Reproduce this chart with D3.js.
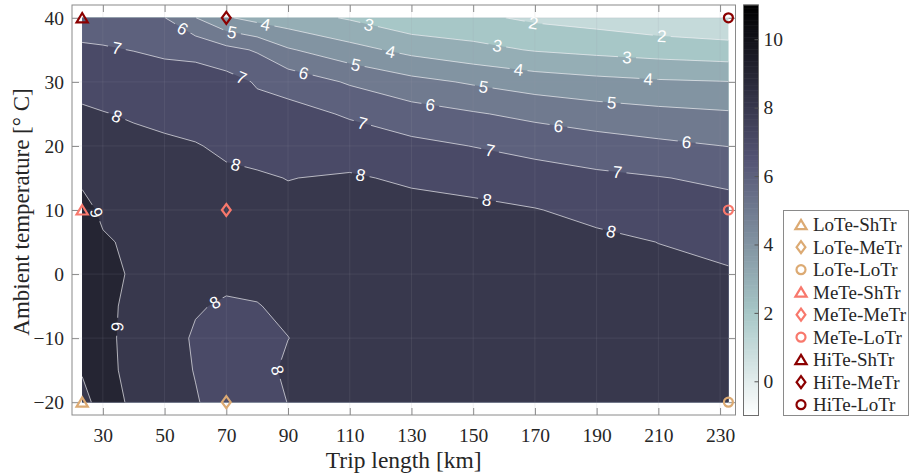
<!DOCTYPE html>
<html>
<head>
<meta charset="utf-8">
<script src="https://cdn.jsdelivr.net/npm/d3@7"></script>
<style>
  body { margin: 0; background: #fff; }
</style>
</head>
<body>
<svg id="chart" width="910" height="476"></svg>
<script>
// grid of the contour plot: trip length (columns) x ambient temperature (rows)
const tripKm = [23.3, 30, 40, 50, 60, 70, 80, 90, 110, 130, 150, 170, 190, 210, 232.7];
const tempC = [-20, -15, -10, -5, 0, 5, 10, 15, 20, 25, 30, 35, 40];

// values per temperature row
const zM20 = [8.8, 9.25, 8.9, 8.3, 8.05, 7.7, 7.75, 8.01, 8.45, 8.5, 8.6, 8.6, 8.6, 8.55, 8.5];
const zM15 = [9.05, 9.2, 8.8, 8.3, 7.97, 7.65, 7.7, 8.15, 8.45, 8.5, 8.6, 8.6, 8.55, 8.5, 8.45];
const zM10 = [9.3, 9.2, 8.75, 8.25, 7.93, 7.7, 7.75, 7.99, 8.45, 8.5, 8.6, 8.6, 8.5, 8.45, 8.4];
const zM5 = [9.35, 9.2, 8.8, 8.4, 8.05, 7.93, 7.97, 8.15, 8.45, 8.5, 8.55, 8.55, 8.45, 8.35, 8.3];
const z0 = [9.4, 9.2, 8.92, 8.5, 8.3, 8.15, 8.2, 8.3, 8.45, 8.5, 8.5, 8.45, 8.35, 8.2, 8.1];
const z5 = [9.4, 9.1, 8.85, 8.55, 8.35, 8.3, 8.35, 8.3, 8.4, 8.45, 8.4, 8.3, 8.2, 7.99, 7.71];
const z10 = [9.3, 8.84, 8.7, 8.5, 8.35, 8.3, 8.3, 8.2, 8.3, 8.3, 8.23, 8.04, 7.75, 7.52, 7.31];
const z15 = [8.83, 8.57, 8.5, 8.35, 8.2, 8.15, 8.1, 7.98, 8.1, 7.86, 7.64, 7.42, 7.2, 7.04, 6.82];
const z20 = [8.49, 8.3, 8.25, 8.15, 8.05, 7.85, 7.7, 7.6, 7.52, 7.24, 6.98, 6.7, 6.44, 6.21, 5.98];
const z25 = [8.14, 8.04, 7.9, 7.77, 7.65, 7.49, 7.33, 7.35, 6.89, 6.43, 6.09, 5.75, 5.47, 5.27, 5.11];
const z30 = [7.68, 7.57, 7.45, 7.35, 7.4, 7.37, 6.91, 6.6, 5.89, 5.29, 4.88, 4.51, 4.28, 4.12, 4.02];
const z35 = [7.12, 7.07, 6.98, 6.86, 6.75, 6.28, 5.9, 5.1, 4.34, 3.71, 3.29, 2.93, 2.73, 2.55, 2.39];
const z40 = [6.6, 6.6, 6.4, 6.02, 5.02, 4.1, 3.67, 3.43, 2.9, 2.24, 2.2, 1.82, 1.6, 1.3, 1.1];
const tempRows = [zM20, zM15, zM10, zM5, z0, z5, z10, z15, z20, z25, z30, z35, z40];

const levels = [1, 2, 3, 4, 5, 6, 7, 8, 9, 10];
const xTicks = [30, 50, 70, 90, 110, 130, 150, 170, 190, 210, 230];
const yTicks = [-20, -10, 0, 10, 20, 30, 40];
const cbTicks = [0, 2, 4, 6, 8, 10];

// contour labels: [level, trip length, temperature] (approximate spot)
const labelSpots = [
  [2, 169.6, 39.3], [2, 211.1, 37.1],
  [3, 116.1, 38.6], [3, 157.7, 35.3], [3, 199.8, 33.4],
  [4, 82.7, 38.9], [4, 123.1, 34.4], [4, 164.7, 31.9], [4, 206.8, 30.6],
  [5, 71.9, 37.9], [5, 111.8, 32.3], [5, 153.4, 29.3], [5, 194.9, 26.9],
  [6, 56.2, 38.6], [6, 95.0, 31.1], [6, 136.1, 26.4], [6, 177.6, 23.0], [6, 219.2, 20.7],
  [7, 34.6, 35.4], [7, 74.6, 30.3], [7, 114.4, 24.1], [7, 155.5, 19.4], [7, 196.8, 16.1],
  [8, 34.7, 24.8], [8, 73.0, 17.0], [8, 113.7, 15.8], [8, 154.5, 11.6], [8, 194.9, 6.9],
  [8, 66.5, -4.6], [8, 85.4, -15.0],
  [9, 28.7, 9.7], [9, 33.9, -8.2]
];

// test cases
const tempNames = ["LoTe", "MeTe", "HiTe"];
const tempPoints = [-20, 10, 40];
const tempColors = ["#dcaa73", "#f8786c", "#8b0000"];
const tripNames = ["ShTr", "MeTr", "LoTr"];
const tripPoints = [23.3, 70, 232.7];
const tripShapes = ["triangle", "diamond", "circle"];

const serif = "'Liberation Serif', 'Times New Roman', serif";
const axisColor = "#8a8a8a";
const textColor = "#262626";

const svg = d3.select("#chart");
const plot = { left: 72, right: 735.5, top: 5, bottom: 415 };
const x = d3.scaleLinear().domain([20, 235]).range([plot.left, plot.right]);
const y = d3.scaleLinear().domain([-22, 42]).range([plot.bottom, plot.top]);

const cb = { left: 743.5, right: 758.5, top: 5, bottom: 415.5 };
const c = d3.scaleLinear().domain([-1, 11]).range([cb.bottom, cb.top]);

// flipped bone colormap
function boneRev(v) {
  const t = 1 - (v - c.domain()[0]) / (c.domain()[1] - c.domain()[0]);
  const cl = u => Math.max(0, Math.min(1, u));
  const r = (7 * t + cl((t - 0.75) / 0.25)) / 8;
  const g = (7 * t + cl((t - 0.375) / 0.375)) / 8;
  const b = (7 * t + cl(t / 0.375)) / 8;
  return d3.rgb(r * 255, g * 255, b * 255).formatHex();
}

// contour index space -> data value (grid node i sits at i + 0.5)
function idxToData(p, arr) {
  const n = arr.length;
  if (p <= 0.5) return arr[0];
  if (p >= n - 0.5) return arr[n - 1];
  const i = Math.floor(p - 0.5), f = p - 0.5 - i;
  return arr[i] + f * (arr[i + 1] - arr[i]);
}

const nx = tripKm.length, ny = tempC.length;
const values = [];
tempRows.forEach(row => row.forEach(v => values.push(v)));
const contours = d3.contours().size([nx, ny]).thresholds(levels)(values);

// filled bands
const fills = svg.append("g");
fills.selectAll("path")
  .data(contours)
  .join("path")
  .attr("fill", d => boneRev(d.value))
  .attr("fill-rule", "evenodd")
  .attr("d", d => d.coordinates.map(poly => poly.map(ring =>
      "M" + ring.map(p => x(idxToData(p[0], tripKm)).toFixed(2) + "," + y(idxToData(p[1], tempC)).toFixed(2)).join("L") + "Z"
    ).join("")).join(""));

// iso lines (skip the pieces lying on the border of the grid)
const xMin = tripKm[0], xMax = tripKm[nx - 1], yMin = tempC[0], yMax = tempC[ny - 1];
const segsByLevel = {};
contours.forEach(ct => {
  const segs = [];
  ct.coordinates.forEach(poly => poly.forEach(ring => {
    const pts = ring.map(p => [idxToData(p[0], tripKm), idxToData(p[1], tempC)]);
    const first = pts[0], last = pts[pts.length - 1];
    if (first[0] !== last[0] || first[1] !== last[1]) pts.push(first);
    for (let k = 0; k < pts.length - 1; k++) {
      const a = pts[k], b = pts[k + 1];
      if ((a[0] === xMin && b[0] === xMin) || (a[0] === xMax && b[0] === xMax) ||
          (a[1] === yMin && b[1] === yMin) || (a[1] === yMax && b[1] === yMax)) continue;
      segs.push([[x(a[0]), y(a[1])], [x(b[0]), y(b[1])]]);
    }
  }));
  segsByLevel[ct.value] = segs;
});

// where each label goes on its line
const labels = labelSpots.map(([lv, tx, ty]) => {
  const px = x(tx), py = y(ty);
  let best = null, bestD = Infinity;
  (segsByLevel[lv] || []).forEach(([a, b]) => {
    const dx = b[0] - a[0], dy = b[1] - a[1];
    const L2 = dx * dx + dy * dy || 1;
    let u = ((px - a[0]) * dx + (py - a[1]) * dy) / L2;
    u = Math.max(0, Math.min(1, u));
    const qx = a[0] + u * dx, qy = a[1] + u * dy;
    const dd = (qx - px) ** 2 + (qy - py) ** 2;
    if (dd < bestD) { bestD = dd; best = { x: qx, y: qy, dx: dx, dy: dy }; }
  });
  if (!best) return null;
  let ang = Math.atan2(best.dy, best.dx) * 180 / Math.PI;
  if (ang > 90) ang -= 180;
  if (ang < -90) ang += 180;
  return { level: lv, x: best.x, y: best.y, angle: ang };
}).filter(d => d);

const defs = svg.append("defs");
const mask = defs.append("mask").attr("id", "gapMask")
  .attr("maskUnits", "userSpaceOnUse")
  .attr("x", 0).attr("y", 0).attr("width", 910).attr("height", 476);
mask.append("rect").attr("width", 910).attr("height", 476).attr("fill", "#fff");
mask.selectAll("rect.gap")
  .data(labels)
  .join("rect")
  .attr("class", "gap")
  .attr("x", -9).attr("y", -8).attr("width", 18).attr("height", 16)
  .attr("fill", "#000")
  .attr("transform", d => `translate(${d.x},${d.y}) rotate(${d.angle})`);

const lines = svg.append("g").attr("mask", "url(#gapMask)");
lines.selectAll("path")
  .data(contours.filter(ct => (segsByLevel[ct.value] || []).length))
  .join("path")
  .attr("fill", "none")
  .attr("stroke", "#f2f2f5")
  .attr("stroke-opacity", 0.85)
  .attr("stroke-width", 0.8)
  .attr("d", ct => segsByLevel[ct.value].map(([a, b]) =>
      "M" + a[0].toFixed(2) + "," + a[1].toFixed(2) + "L" + b[0].toFixed(2) + "," + b[1].toFixed(2)).join(""));

// faint grid
const grid = svg.append("g").attr("stroke", "#9a9aa8").attr("stroke-opacity", 0.18).attr("stroke-width", 0.8);
grid.selectAll("line.gx").data(xTicks).join("line").attr("class", "gx")
  .attr("x1", d => x(d)).attr("x2", d => x(d)).attr("y1", plot.top).attr("y2", plot.bottom);
grid.selectAll("line.gy").data(yTicks).join("line").attr("class", "gy")
  .attr("y1", d => y(d)).attr("y2", d => y(d)).attr("x1", plot.left).attr("x2", plot.right);

// contour labels
svg.append("g").selectAll("text")
  .data(labels)
  .join("text")
  .attr("transform", d => `translate(${d.x},${d.y}) rotate(${d.angle})`)
  .attr("text-anchor", "middle")
  .attr("dy", "0.36em")
  .attr("fill", "#ffffff")
  .style("font-family", "'Liberation Sans', Arial, sans-serif")
  .style("font-size", "17px")
  .text(d => d.level);

// axes
function styleAxis(g, showText) {
  g.select(".domain").remove();
  g.selectAll(".tick line").attr("stroke", axisColor);
  g.attr("font-family", serif).attr("font-size", 19.5);
  g.selectAll(".tick text").attr("fill", textColor);
  if (!showText) g.selectAll(".tick text").remove();
}
svg.append("g").attr("transform", `translate(0,${plot.bottom})`)
  .call(d3.axisBottom(x).tickValues(xTicks).tickSize(-7).tickPadding(13).tickFormat(d3.format("d")))
  .call(g => styleAxis(g, true));
svg.append("g").attr("transform", `translate(0,${plot.top})`)
  .call(d3.axisTop(x).tickValues(xTicks).tickSize(-7))
  .call(g => styleAxis(g, false));
svg.append("g").attr("transform", `translate(${plot.left},0)`)
  .call(d3.axisLeft(y).tickValues(yTicks).tickSize(-7).tickPadding(8).tickFormat(d3.format("d")))
  .call(g => styleAxis(g, true));
svg.append("g").attr("transform", `translate(${plot.right},0)`)
  .call(d3.axisRight(y).tickValues(yTicks).tickSize(-7))
  .call(g => styleAxis(g, false));
svg.append("rect")
  .attr("x", plot.left).attr("y", plot.top)
  .attr("width", plot.right - plot.left).attr("height", plot.bottom - plot.top)
  .attr("fill", "none").attr("stroke", axisColor).attr("stroke-width", 1);

svg.append("text")
  .attr("x", (plot.left + plot.right) / 2).attr("y", 468)
  .attr("text-anchor", "middle")
  .attr("fill", textColor)
  .style("font-family", serif).style("font-size", "23.5px")
  .text("Trip length [km]");
svg.append("text")
  .attr("transform", `translate(29,${(plot.top + plot.bottom) / 2 + 2}) rotate(-90)`)
  .attr("text-anchor", "middle")
  .attr("fill", textColor)
  .style("font-family", serif).style("font-size", "23px")
  .text("Ambient temperature [° C]");

// markers
function markerPath(shape) {
  const p = d3.path();
  if (shape === "triangle") {
    p.moveTo(0, -4.8); p.lineTo(5.6, 4.5); p.lineTo(-5.6, 4.5); p.closePath();
  } else if (shape === "diamond") {
    p.moveTo(0, -6); p.lineTo(4.4, 0); p.lineTo(0, 6); p.lineTo(-4.4, 0); p.closePath();
  } else {
    p.arc(0, 0, 4.5, 0, 2 * Math.PI); p.closePath();
  }
  return p.toString();
}
const cases = [];
tempNames.forEach((tn, i) => tripNames.forEach((rn, j) => cases.push({
  name: tn + "-" + rn, temp: tempPoints[i], trip: tripPoints[j],
  color: tempColors[i], shape: tripShapes[j]
})));

svg.append("g").selectAll("path")
  .data(cases)
  .join("path")
  .attr("transform", d => `translate(${x(d.trip)},${y(d.temp)})`)
  .attr("d", d => markerPath(d.shape))
  .attr("fill", "none")
  .attr("stroke", d => d.color)
  .attr("stroke-width", 2.2);

// colorbar
const cbSteps = d3.range(0, 240).map(i => c.invert(cb.bottom - (i / 240) * (cb.bottom - cb.top)));
const cbStep = (cb.bottom - cb.top) / 240;
svg.append("g").selectAll("rect")
  .data(cbSteps)
  .join("rect")
  .attr("x", cb.left).attr("width", cb.right - cb.left)
  .attr("y", d => c(d) - cbStep - 0.3).attr("height", cbStep + 0.6)
  .attr("fill", d => boneRev(d + 6 / 240));
svg.append("rect")
  .attr("x", cb.left).attr("y", cb.top)
  .attr("width", cb.right - cb.left).attr("height", cb.bottom - cb.top)
  .attr("fill", "none").attr("stroke", "#6e6e6e").attr("stroke-width", 1);
svg.append("g").attr("transform", `translate(${cb.right},0)`)
  .call(d3.axisRight(c).tickValues(cbTicks).tickSize(-4).tickPadding(5))
  .call(g => {
    g.select(".domain").remove();
    g.selectAll(".tick line").attr("stroke", "#555");
    g.attr("font-family", serif).attr("font-size", 19.5);
    g.selectAll(".tick text").attr("fill", textColor);
  });

// legend
const legend = svg.append("g");
legend.append("rect")
  .attr("x", 783.5).attr("y", 210.5).attr("width", 125).attr("height", 205)
  .attr("fill", "#fff").attr("stroke", axisColor).attr("stroke-width", 1);
const items = legend.selectAll("g.item")
  .data(cases)
  .join("g")
  .attr("class", "item")
  .attr("transform", (d, i) => `translate(801,${224.7 + i * 22.5})`);
items.append("path")
  .attr("d", d => markerPath(d.shape))
  .attr("fill", "none")
  .attr("stroke", d => d.color)
  .attr("stroke-width", 2.2);
items.append("text")
  .attr("x", 12).attr("dy", "0.34em")
  .attr("fill", textColor)
  .style("font-family", serif).style("font-size", "19px")
  .text(d => d.name);
</script>
</body>
</html>
